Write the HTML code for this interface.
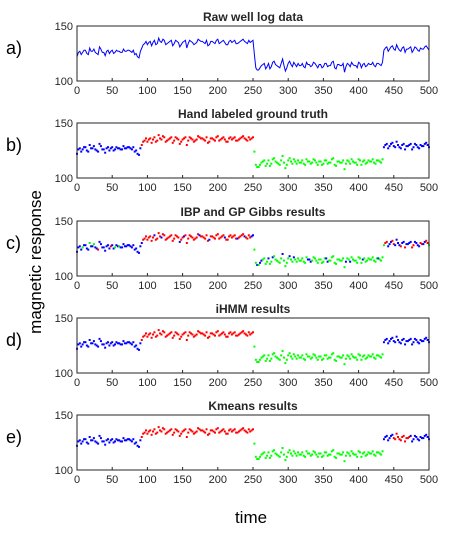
<!DOCTYPE html>
<html><head><meta charset="utf-8"><style>
body{margin:0;background:#fff;width:454px;height:528px;overflow:hidden;font-family:"Liberation Sans",sans-serif}
</style></head><body>
<svg id="fig" width="454" height="528" xmlns="http://www.w3.org/2000/svg"></svg>
<script>
const timesA = [];
for (let t = 0; t <= 500; t += 4) timesA.push(t);
const timesB = [];
for (let t = 2; t <= 498; t += 4) timesB.push(t);
const valuesA = [122,127,126,128,124,127,129,125,131,126,123,128,127,125,128,127,126,127,128,127,128,125,121,
130,134,133,136,135,133,139,135,137,134,136,132,137,135,133,136,130,137,135,134,138,136,135,137,133,136,134,138,135,137,133,136,135,137,134,136,138,135,137,136,
124,110,112,115,111,116,113,118,114,112,120,109,116,115,117,113,114,116,112,115,113,117,114,115,112,116,113,114,118,111,115,114,108,116,113,115,114,117,112,116,114,115,117,113,116,114,
128,131,129,132,128,130,127,131,129,130,126,131,128,130,129,132,128];
const valuesB = [126,124,128,125,130,127,126,124,129,126,127,125,128,126,127,126,129,127,128,126,124,122,
127,
133,136,135,132,137,134,136,138,133,135,137,134,136,131,135,137,134,136,133,135,137,136,134,132,136,135,137,134,136,135,133,137,136,134,135,137,136,134,135,137,
112,110,114,116,113,111,117,115,113,116,114,112,118,113,115,116,114,113,117,115,114,116,112,115,113,116,114,117,112,115,114,116,113,115,117,114,112,116,115,113,116,115,114,116,115,117,
130,127,131,129,133,128,130,126,129,131,128,130,127,129,131,130];
const labTruthA = "b".repeat(23)+"r".repeat(40)+"g".repeat(46)+"b".repeat(17);
const labTruthB = "b".repeat(23)+"r".repeat(40)+"g".repeat(46)+"b".repeat(16);
const labIbpA = "bbgbbbgbbbbbrbbgbbbbbbb"+"brrrrrrbrrrrrrrbrrrrrrrrbrrrrrrrrrbrrrrb"+"gbbggbggggbgggbggggbbgggggbgggggggbgggggggggbg"+"grbrbbrbbbrbbrbrg";
const labIbpB = "bbbbgbbrbbbbbgbbbbbbbb"+"b"+"rrrrbrrrrrrrrbrrrrrrbrrrrrrrrbrrrrrrbrrb"+"ggbgggbgggggbggggggbgggggbggggggbgggggbggggggg"+"rbbrbbbrbbrbbrbr";
const labIhmmA = labTruthA;
const labIhmmB = labTruthB;
const labKmeansA = "b".repeat(23)+"r".repeat(40)+"g".repeat(46)+"bbbbrrrrrrbbbbbbb";
const labKmeansB = "b".repeat(23)+"r".repeat(40)+"g".repeat(46)+"bbbrrrrrrbbbbbbb";
const titles = ["Raw well log data","Hand labeled ground truth","IBP and GP Gibbs results","iHMM results","Kmeans results"];
const panelLetters = ["a)","b)","c)","d)","e)"];
const xTicks = [0,50,100,150,200,250,300,350,400,450,500];
const yTicks = [100,150];

const NS="http://www.w3.org/2000/svg", svg=document.getElementById('fig');
const col={b:"#0000ff",r:"#ff0000",g:"#00ff00"};
function mk(tag,attrs,parent){const e=document.createElementNS(NS,tag);for(const k in attrs)e.setAttribute(k,attrs[k]);(parent||svg).appendChild(e);return e;}
const X0=77,X1=429,H=55,tops=[26,123,221,318,415];
const xs=t=>X0+(t/500)*(X1-X0);
const labelSetsA=[labTruthA,labTruthA,labIbpA,labIhmmA,labKmeansA];
const labelSetsB=[labTruthB,labTruthB,labIbpB,labIhmmB,labKmeansB];
tops.forEach((top,p)=>{
  const ys=v=>top+H-(v-100)/50*H;
  const pts=[];
  timesA.forEach((t,i)=>pts.push({t:t,v:valuesA[i],l:labelSetsA[p][i]||'b'}));
  timesB.forEach((t,i)=>pts.push({t:t,v:valuesB[i],l:labelSetsB[p][i]||'b'}));
  pts.sort((a,b)=>a.t-b.t);
  const g=mk('g',{});
  
  
  const ti=mk('text',{x:(X0+X1)/2,y:top-5,'text-anchor':'middle','font-size':'12','font-weight':'bold',fill:'#262626'},g);
  ti.textContent=titles[p];
  
  
  const pl=mk('text',{x:6,y:top+28,'font-size':'18',fill:'#000'},g);
  pl.textContent=panelLetters[p];
  
  
  if(p===0){
    const d=pts.map((q,i)=>(i?'L':'M')+xs(q.t).toFixed(1)+' '+ys(q.v).toFixed(1)).join(' ');
    const ln=mk('path',{d:d,fill:'none',stroke:'#0000ff','stroke-width':'1'},g);
    
    
  } else {
    pts.forEach(q=>{
      const c=mk('rect',{x:xs(q.t)-1,y:ys(q.v)-1,width:2,height:2,fill:col[q.l]},g);
      
      
    });
  }
  const box=mk('rect',{x:X0,y:top,width:X1-X0,height:H,fill:'none',stroke:'#262626','stroke-width':'1'},g);
  
  
  xTicks.forEach(t=>{
    mk('line',{x1:xs(t),x2:xs(t),y1:top+H,y2:top+H-3,stroke:'#262626'},g);
    const tx=mk('text',{x:xs(t),y:top+H+13,'text-anchor':'middle','font-size':'11',fill:'#262626'},g);
    tx.textContent=t;
    
    
  });
  yTicks.forEach(v=>{
    mk('line',{x1:X0,x2:X0+3,y1:ys(v),y2:ys(v),stroke:'#262626'},g);
    const ty=mk('text',{x:X0-4,y:ys(v)+4,'text-anchor':'end','font-size':'11',fill:'#262626'},g);
    ty.textContent=v;
    
    
  });
});
const yl=mk('text',{x:0,y:0,transform:'translate(41,262) rotate(-90)','text-anchor':'middle','font-size':'17',fill:'#000'});
yl.textContent='magnetic response';


const xl=mk('text',{x:251,y:523,'text-anchor':'middle','font-size':'17',fill:'#000'});
xl.textContent='time';


</script>
</body></html>
